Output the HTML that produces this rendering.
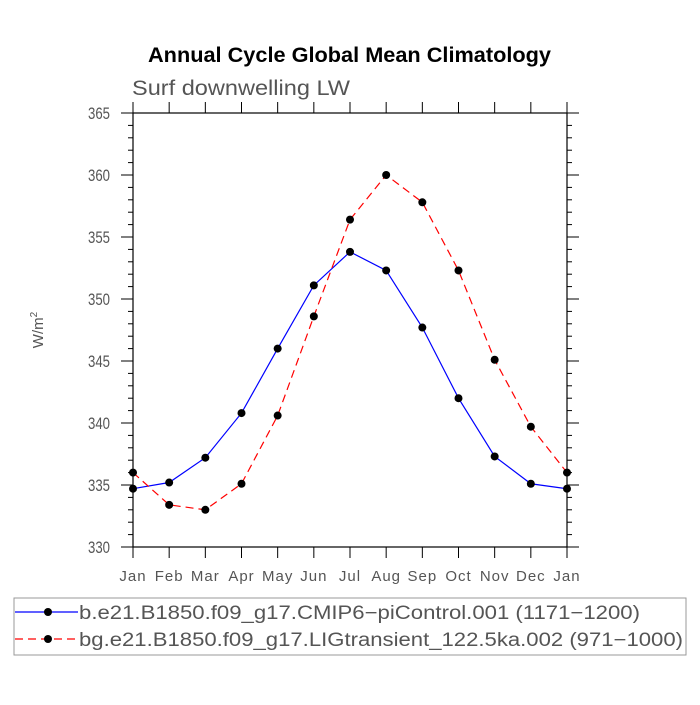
<!DOCTYPE html>
<html><head><meta charset="utf-8"><style>
body{margin:0;background:#fff;width:700px;height:700px;overflow:hidden}
svg text{font-family:"Liberation Sans",sans-serif}
</style></head><body>
<svg id="c" width="700" height="700">
<text x="148" y="62" textLength="403" lengthAdjust="spacingAndGlyphs" font-size="21" font-weight="bold">Annual Cycle Global Mean Climatology</text>
<text x="132" y="95" textLength="218" lengthAdjust="spacingAndGlyphs" font-size="21" fill="#555">Surf downwelling LW</text>
<text transform="translate(43,330) rotate(-90)" text-anchor="middle" font-size="15" fill="#555">W/m<tspan dy="-6" font-size="10">2</tspan></text>
<g id="ax"></g><g id="series"></g>
<rect x="14" y="598" width="672" height="57" fill="none" stroke="#999"/>
</svg>
<script>
const months=["Jan","Feb","Mar","Apr","May","Jun","Jul","Aug","Sep","Oct","Nov","Dec","Jan"];
const yTicks=[330,335,340,345,350,355,360,365];
const blueVals=[334.7,335.2,337.2,340.8,346.0,351.1,353.8,352.3,347.7,342.0,337.3,335.1,334.7];
const redVals=[336.0,333.4,333.0,335.1,340.6,348.6,356.4,360.0,357.8,352.3,345.1,339.7,336.0];
const seriesNames=["b.e21.B1850.f09_g17.CMIP6\u2212piControl.001 (1171\u22121200)","bg.e21.B1850.f09_g17.LIGtransient_122.5ka.002 (971\u22121000)"];
const L=133,R=567,T=113,B=547,yMin=330,yMax=365;
const xs=i=>L+(R-L)*i/(months.length-1);
const ys=v=>B-(v-yMin)/(yMax-yMin)*(B-T);
const NS="http://www.w3.org/2000/svg";
function mk(p,t,a){const e=document.createElementNS(NS,t);for(const k in a)e.setAttribute(k,a[k]);p.appendChild(e);return e;}
const ax=document.getElementById('ax');
const frame=mk(ax,'rect',{x:L,y:T,width:R-L,height:B-T,fill:'none',stroke:'#000','stroke-width':1.2});


for(let v=yMin;v<=yMax;v++){const maj=(v%5===0);const y=ys(v);const len=maj?12:5;
 mk(ax,'line',{x1:L-len,x2:L,y1:y,y2:y,stroke:'#000'});
 mk(ax,'line',{x1:R,x2:R+len,y1:y,y2:y,stroke:'#000'});}
yTicks.forEach(v=>{const t=mk(ax,'text',{x:88,y:ys(v)+6,textLength:22,lengthAdjust:'spacingAndGlyphs','font-size':17,fill:'#555'});t.textContent=v;
 
 });
months.forEach((m,i)=>{const x=xs(i);
 mk(ax,'line',{x1:x,x2:x,y1:B,y2:B+11,stroke:'#000'});
 mk(ax,'line',{x1:x,x2:x,y1:T-11,y2:T,stroke:'#000'});
 const t=mk(ax,'text',{x:x,y:B+34,'text-anchor':'middle','font-size':15,'letter-spacing':1,fill:'#555'});t.textContent=m;
 
 });
const sg=document.getElementById('series');
function draw(vals,color,dash,name){
 const g=mk(sg,'g',{});
 
 
 mk(g,'polyline',{points:vals.map((v,i)=>xs(i)+','+ys(v)).join(' '),fill:'none',stroke:color,'stroke-width':1.2,'stroke-dasharray':dash});
 vals.forEach((v,i)=>{const c=mk(g,'circle',{cx:xs(i),cy:ys(v),r:4,fill:'#000'});
  
  });}
draw(blueVals,'#00f','none','series-picontrol');
draw(redVals,'#f00','8,5','series-ligtransient');
const svg=document.getElementById('c');
[['#00f','none',seriesNames[0],612,561],['#f00','8,5',seriesNames[1],639,604]].forEach(([c,d,n,y,w])=>{
 const g=mk(svg,'g',{});
 
 
 mk(g,'line',{x1:15,x2:78,y1:y,y2:y,stroke:c,'stroke-dasharray':d,'stroke-width':1.2});
 mk(g,'circle',{cx:48,cy:y,r:4,fill:'#000'});
 const t=mk(g,'text',{x:79,y:y+7,textLength:w,lengthAdjust:'spacingAndGlyphs','font-size':19,fill:'#555'});t.textContent=n;});
</script>
</body></html>
